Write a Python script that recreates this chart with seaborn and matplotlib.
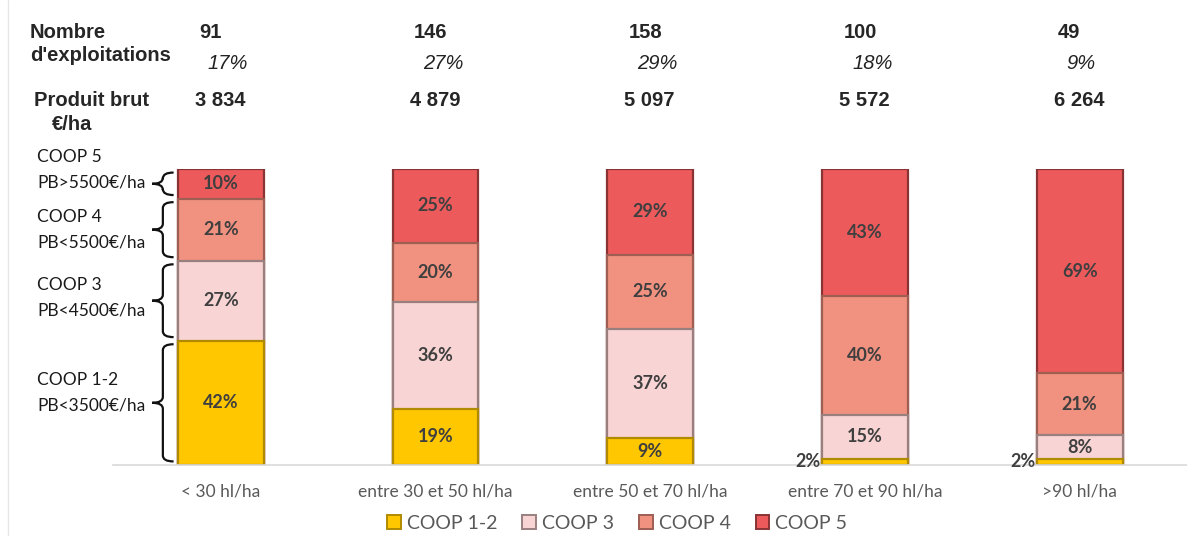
import numpy as np
import pandas as pd
import matplotlib
matplotlib.use("Agg")
import matplotlib.pyplot as plt
import matplotlib.transforms as mtransforms
from matplotlib.path import Path
from matplotlib.patches import PathPatch, Patch
import seaborn as sns

# --- data ---
classes = ["< 30 hl/ha", "entre 30 et 50 hl/ha", "entre 50 et 70 hl/ha",
           "entre 70 et 90 hl/ha", ">90 hl/ha"]
coop12 = [42, 19, 9, 2, 2]
coop3 = [27, 36, 37, 15, 8]
coop4 = [21, 20, 25, 40, 21]
coop5 = [10, 25, 29, 43, 69]
n_exploit = ["91", "146", "158", "100", "49"]
pct_exploit = ["17%", "27%", "29%", "18%", "9%"]
produit_brut = ["3 834", "4 879", "5 097", "5 572", "6 264"]
series_names = ["COOP 1-2", "COOP 3", "COOP 4", "COOP 5"]
brace_labels = [("COOP 1-2", "PB<3500€/ha"), ("COOP 3", "PB<4500€/ha"),
                ("COOP 4", "PB<5500€/ha"), ("COOP 5", "PB>5500€/ha")]
label_shift = [3.3, 1.1, 0.0, 4.8]   # vertical nudge of the left labels (in %)

fills = ["#FFC700", "#F8D4D4", "#F19180", "#EC5A5C"]
edges = ["#B08A00", "#9A7F7F", "#9E5E52", "#8A3334"]

sns.set_theme(style="white")
plt.rcParams['font.family'] = ['Lato', 'DejaVu Sans']

df = pd.DataFrame({"classe": classes, "COOP 1-2": coop12, "COOP 3": coop3,
                   "COOP 4": coop4, "COOP 5": coop5})
stack = df[series_names].cumsum(axis=1)

fig = plt.figure(figsize=(11.87, 5.36), dpi=100)
ax = fig.add_axes([0.0956, 0.1325, 0.9044, 0.5522])

# stacked bars: draw cumulative totals from top series down
for k in range(len(series_names) - 1, -1, -1):
    sns.barplot(x=df["classe"], y=stack[series_names[k]], color=fills[k],
                width=0.4, edgecolor=edges[k], linewidth=1.6,
                errorbar=None, saturation=1, ax=ax)

ax.set_xlim(-0.5, 4.5)
ax.set_ylim(0, 100)
ax.set_xlabel("")
ax.set_ylabel("")
ax.set_yticks([])
for s in ["top", "right", "left"]:
    ax.spines[s].set_visible(False)
ax.spines["bottom"].set_color("#D9D9D9")
ax.spines["bottom"].set_linewidth(1.2)
ax.tick_params(axis="x", length=0, pad=13, labelsize=12.5, labelcolor="#595959")

# value labels
for i in range(len(classes)):
    bottom = 0
    for k, name in enumerate(series_names):
        v = df[name][i]
        if v <= 3:
            ax.text(i - 0.205, 1.2, f"{v}%", ha="right", va="center",
                    fontsize=13, fontweight="bold", color="#3F3F3F")
        else:
            ax.text(i, bottom + v / 2, f"{v}%", ha="center", va="center",
                    fontsize=13, fontweight="bold", color="#3F3F3F")
        bottom += v


# braces next to the first bar
def draw_brace(ax, x, y0, y1, w=0.05, d=2.0):
    ym = (y0 + y1) / 2
    verts = [(x + w, y1), (x, y1), (x, y1 - d), (x, ym + d),
             (x, ym), (x - w, ym), (x, ym), (x, ym - d),
             (x, y0 + d), (x, y0), (x + w, y0)]
    codes = [Path.MOVETO, Path.CURVE3, Path.CURVE3, Path.LINETO,
             Path.CURVE3, Path.CURVE3, Path.CURVE3, Path.CURVE3,
             Path.LINETO, Path.CURVE3, Path.CURVE3]
    ax.add_patch(PathPatch(Path(verts, codes), fill=False, lw=1.6,
                           edgecolor="#111111", clip_on=False))


bottom = 0
for k, name in enumerate(series_names):
    v = df[name][0]
    draw_brace(ax, -0.27, bottom + 1.2, bottom + v - 1.2)
    yc = bottom + v / 2 + label_shift[k]
    ax.text(-0.855, yc + 4.25, brace_labels[k][0], ha="left", va="center",
            fontsize=12.5, color="#1A1A1A", clip_on=False)
    ax.text(-0.855, yc - 4.25, brace_labels[k][1], ha="left", va="center",
            fontsize=12.5, color="#1A1A1A", clip_on=False)
    bottom += v

# header rows
hdr = ["Liberation Sans", "DejaVu Sans"]
trans = mtransforms.blended_transform_factory(ax.transData, fig.transFigure)
fig.text(0.025, 0.940, "Nombre", fontsize=14.5, fontweight="bold", family=hdr, va="center")
fig.text(0.025, 0.897, "d'exploitations", fontsize=14.5, fontweight="bold", family=hdr, va="center")
fig.text(0.029, 0.812, "Produit brut", fontsize=14.5, fontweight="bold", family=hdr, va="center")
fig.text(0.044, 0.767, "€/ha", fontsize=14.5, fontweight="bold", family=hdr, va="center")
for i in range(len(classes)):
    ax.text(i - 0.1, 0.940, n_exploit[i], transform=trans, fontsize=14.5,
            fontweight="bold", family=hdr, va="center", ha="left")
    ax.text(i - 0.06, 0.882, pct_exploit[i], transform=trans, fontsize=14.5,
            style="italic", family=hdr, va="center", ha="left", color="#222222")
    ax.text(i - 0.12, 0.813, produit_brut[i], transform=trans, fontsize=14.5,
            fontweight="bold", family=hdr, va="center", ha="left")

# legend
handles = [Patch(facecolor=fills[k], edgecolor=edges[k], linewidth=1.4)
           for k in range(len(series_names))]
fig.legend(handles, series_names, loc="center", bbox_to_anchor=(0.52, 0.024),
           ncol=4, frameon=False, fontsize=14, handlelength=0.7,
           handleheight=0.7, handletextpad=0.3, columnspacing=1.3,
           labelcolor="#595959")

# faint frame line on the left edge
fig.add_artist(plt.Line2D([0.007, 0.007], [0.0, 1.0], color="#E6E6E6", lw=1.0))

fig.savefig("out.png", dpi=100)
